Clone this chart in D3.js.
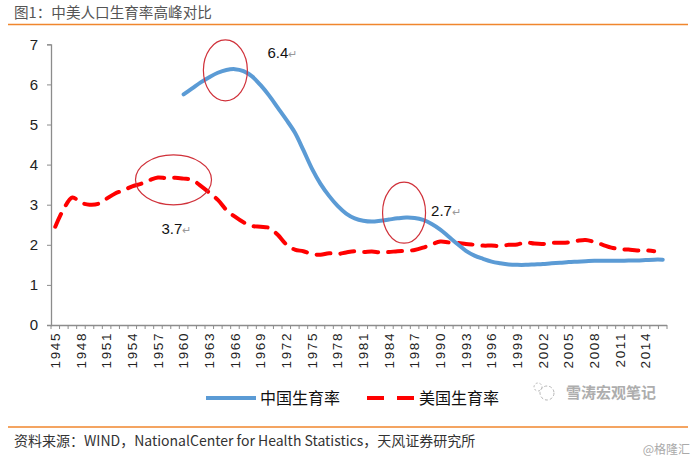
<!DOCTYPE html>
<html><head><meta charset="utf-8">
<script src="https://cdn.jsdelivr.net/npm/d3@7"></script>
<style>
html,body{margin:0;padding:0;background:#fff;}
svg{display:block;}
</style></head>
<body>
<svg id="c" width="696" height="462"></svg>
<script>
const titleText = "图1：中美人口生育率高峰对比";
const sourceText = "资料来源：WIND，NationalCenter for Health Statistics，天风证券研究所";
const years = d3.range(1945, 2017);
const tickLabelYears = d3.range(1945, 2015, 3);
const yTicks = [0,1,2,3,4,5,6,7];
const chinaYears = d3.range(1960, 2017);
const chinaValues = [5.75,5.9,6.05,6.18,6.29,6.36,6.38,6.33,6.2,5.98,5.72,5.42,5.12,4.8,4.36,3.9,3.52,3.22,2.97,2.78,2.66,2.6,2.58,2.6,2.63,2.66,2.68,2.67,2.62,2.52,2.38,2.2,2.02,1.85,1.73,1.65,1.58,1.54,1.51,1.5,1.5,1.51,1.52,1.54,1.55,1.57,1.58,1.59,1.6,1.6,1.6,1.6,1.61,1.61,1.62,1.63,1.63];
const usYears = d3.range(1945, 2016);
const usValues = [2.45,2.9,3.18,3.05,3.0,3.02,3.15,3.28,3.36,3.46,3.52,3.61,3.68,3.66,3.67,3.65,3.62,3.47,3.3,3.12,2.87,2.7,2.56,2.47,2.45,2.42,2.25,2.01,1.88,1.84,1.77,1.75,1.79,1.77,1.81,1.84,1.82,1.83,1.81,1.82,1.84,1.85,1.87,1.93,2.01,2.08,2.06,2.05,2.02,2.0,1.98,1.98,1.97,2.0,2.01,2.06,2.03,2.02,2.05,2.05,2.06,2.1,2.12,2.07,2.0,1.93,1.89,1.88,1.86,1.86,1.84];
const seriesNames = ["中国生育率","美国生育率"];
const annotations = [
  {label:"6.4", year:1965, value:6.4},
  {label:"3.7", year:1958, value:3.7},
  {label:"2.7", year:1986, value:2.7}
];

const svg = d3.select("#c");
const cjk = "'Noto Sans CJK SC','Noto Sans',sans-serif";
const arial = "'Liberation Sans',Arial,sans-serif";

// title
svg.append("text").attr("x",14).attr("y",18).text(titleText)
  .attr("font-family",cjk).attr("font-size",14.6).attr("fill","#555");
svg.append("line").attr("x1",8).attr("x2",688).attr("y1",24.5).attr("y2",24.5)
  .attr("stroke","#f0862d").attr("stroke-width",1.5);

const x = d3.scaleBand().domain(years).range([51,667]);
const y = d3.scaleLinear().domain([0,7]).range([325,44.3]);
const cx = yr => x(yr) + x.bandwidth()/2;

// y axis
const gy = svg.append("g").attr("transform","translate(51,0)")
  .call(d3.axisLeft(y).tickValues(yTicks).tickSize(4).tickPadding(9).tickFormat(d3.format("d")));
gy.select(".domain").attr("stroke","#8c8c8c").attr("stroke-width",1.3);
gy.selectAll(".tick line").attr("stroke","#8c8c8c");
gy.selectAll(".tick text").attr("font-family",arial).attr("font-size",15).attr("fill","#222");

// x axis
const gx = svg.append("g").attr("transform","translate(0,325)");
gx.append("line").attr("x1",51).attr("x2",667).attr("y1",0.5).attr("y2",0.5).attr("stroke","#8c8c8c").attr("stroke-width",1.3);
const boundaries = years.map(yr => x(yr)).concat([x(years[years.length-1]) + x.bandwidth()]);
gx.selectAll("line.tk").data(boundaries).join("line").attr("class","tk")
  .attr("x1",d=>d).attr("x2",d=>d).attr("y1",0).attr("y2",4).attr("stroke","#8c8c8c");
gx.selectAll("text.xl").data(tickLabelYears).join("text").attr("class","xl")
  .attr("transform",d=>`translate(${cx(d)},7) rotate(-90)`)
  .attr("text-anchor","end").attr("dy","0.36em")
  .attr("font-family",arial).attr("font-size",13.5).attr("letter-spacing","1.6px").attr("fill","#222")
  .text(d=>d);

// lines
const line = d3.line().x(d=>cx(d[0])).y(d=>y(d[1])).curve(d3.curveCatmullRom.alpha(0.5));
svg.append("path").datum(usYears.map((yr,i)=>[yr,usValues[i]]))
  .attr("d",line).attr("fill","none").attr("stroke","#ff0000").attr("stroke-width",4)
  .attr("stroke-dasharray","14,10").attr("stroke-linecap","round");
svg.append("path").datum(chinaYears.map((yr,i)=>[yr,chinaValues[i]]))
  .attr("d",line).attr("fill","none").attr("stroke","#5b9bd5").attr("stroke-width",4)
  .attr("stroke-linecap","round");

// ellipses
const ells = [
  {year:1965, value:6.35, rx:22, ry:30.5, dx:-1},
  {year:1958, value:3.62, rx:38, ry:25, dx:7},
  {year:1986, value:2.8, rx:21.5, ry:30.5, dx:-2}
];
svg.selectAll("ellipse").data(ells).join("ellipse")
  .attr("cx",d=>cx(d.year)+d.dx).attr("cy",d=>y(d.value)).attr("rx",d=>d.rx).attr("ry",d=>d.ry)
  .attr("fill","none").attr("stroke","#d0313a").attr("stroke-width",1.2);

// annotation labels
const annPos = [{dx:41, dy:-10.5}, {dx:-5, dy:57}, {dx:25, dy:-0.5}];
annotations.forEach((a,i)=>{
  const t = svg.append("text").attr("x",cx(a.year)+annPos[i].dx).attr("y",y(a.value)+annPos[i].dy)
    .attr("font-family",arial).attr("font-size",15).attr("fill","#111");
  t.append("tspan").text(a.label);
  t.append("tspan").text("↵").attr("font-size",11).attr("fill","#999");
});

// legend
const lg = svg.append("g");
lg.append("line").attr("x1",206).attr("x2",256).attr("y1",398).attr("y2",398)
  .attr("stroke","#5b9bd5").attr("stroke-width",4);
lg.append("text").attr("x",260).attr("y",404).text(seriesNames[0])
  .attr("font-family",cjk).attr("font-size",16).attr("fill","#111");
lg.append("line").attr("x1",367).attr("x2",414).attr("y1",398).attr("y2",398)
  .attr("stroke","#ff0000").attr("stroke-width",4).attr("stroke-dasharray","17,13");
lg.append("text").attr("x",419).attr("y",404).text(seriesNames[1])
  .attr("font-family",cjk).attr("font-size",16).attr("fill","#111");

// watermark
const wm = svg.append("g").attr("opacity",0.6);
wm.append("circle").attr("cx",547).attr("cy",393).attr("r",7).attr("fill","none").attr("stroke","#888").attr("stroke-width",1).attr("stroke-dasharray","3,2");
wm.append("circle").attr("cx",538).attr("cy",387).attr("r",4).attr("fill","none").attr("stroke","#888").attr("stroke-width",1).attr("stroke-dasharray","2,2");
wm.append("text").attr("x",566).attr("y",398).text("雪涛宏观笔记")
  .attr("font-family",cjk).attr("font-size",15).attr("font-weight","bold").attr("fill","#777");

// footer
svg.append("line").attr("x1",8).attr("x2",688).attr("y1",427).attr("y2",427)
  .attr("stroke","#f0862d").attr("stroke-width",1.5);
svg.append("text").attr("x",14).attr("y",446).text(sourceText)
  .attr("font-family",cjk).attr("font-size",14).attr("fill","#333");
svg.append("text").attr("x",690).attr("y",454).attr("text-anchor","end").text("@格隆汇")
  .attr("font-family",cjk).attr("font-size",12).attr("fill","#aaa");
</script>
</body></html>
